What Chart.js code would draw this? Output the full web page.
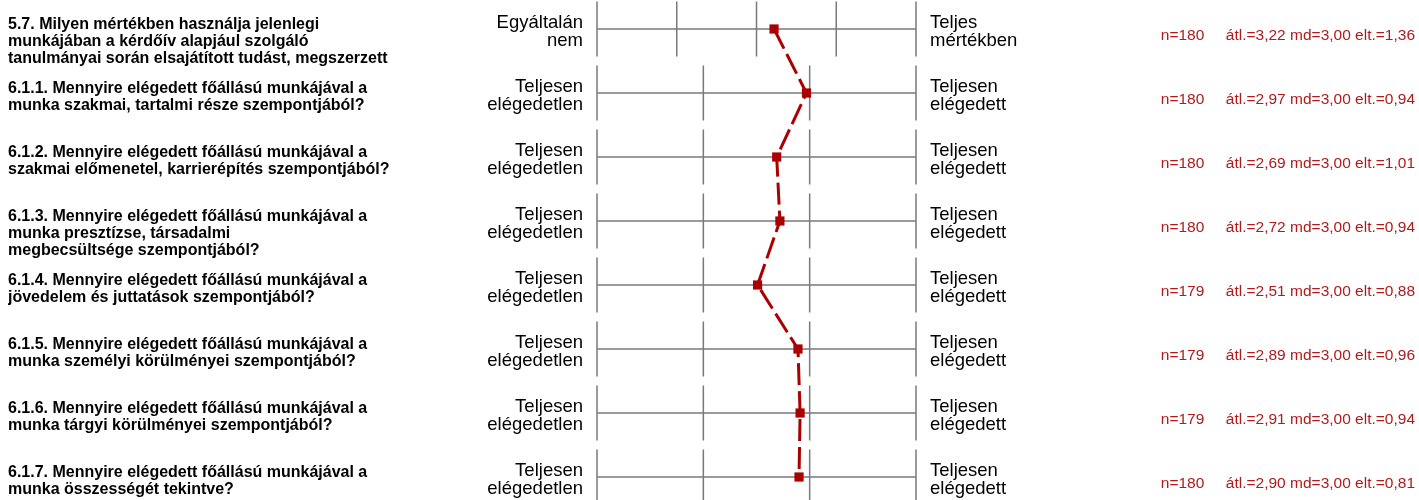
<!DOCTYPE html>
<html>
<head>
<meta charset="utf-8">
<script src="https://cdn.jsdelivr.net/npm/chart.js@4.4.1/dist/chart.umd.min.js"></script>
<style>
body{margin:0;background:#fff}
#wrap{width:1419px;height:500px;position:relative}
</style>
</head>
<body>
<div id="wrap"><canvas id="profile"></canvas></div>
<script>

/* data */
let questions = [
["5.7. Milyen mértékben használja jelenlegi","munkájában a kérdőív alapjául szolgáló","tanulmányai során elsajátított tudást, megszerzett"],
["6.1.1. Mennyire elégedett főállású munkájával a","munka szakmai, tartalmi része szempontjából?"],
["6.1.2. Mennyire elégedett főállású munkájával a","szakmai előmenetel, karrierépítés szempontjából?"],
["6.1.3. Mennyire elégedett főállású munkájával a","munka presztízse, társadalmi","megbecsültsége szempontjából?"],
["6.1.4. Mennyire elégedett főállású munkájával a","jövedelem és juttatások szempontjából?"],
["6.1.5. Mennyire elégedett főállású munkájával a","munka személyi körülményei szempontjából?"],
["6.1.6. Mennyire elégedett főállású munkájával a","munka tárgyi körülményei szempontjából?"],
["6.1.7. Mennyire elégedett főállású munkájával a","munka összességét tekintve?"]
];
let leftLabels = [["Egyáltalán","nem"],["Teljesen","elégedetlen"],["Teljesen","elégedetlen"],["Teljesen","elégedetlen"],["Teljesen","elégedetlen"],["Teljesen","elégedetlen"],["Teljesen","elégedetlen"],["Teljesen","elégedetlen"]];
let rightLabels = [["Teljes","mértékben"],["Teljesen","elégedett"],["Teljesen","elégedett"],["Teljesen","elégedett"],["Teljesen","elégedett"],["Teljesen","elégedett"],["Teljesen","elégedett"],["Teljesen","elégedett"]];
let scaleMax = [5,4,4,4,4,4,4,4];
let nValues = [180,180,180,180,179,179,179,180];
let means = [3.22,2.97,2.69,2.72,2.51,2.89,2.91,2.90];
let medians = [3.00,3.00,3.00,3.00,3.00,3.00,3.00,3.00];
let stdDevs = [1.36,0.94,1.01,0.94,0.88,0.96,0.94,0.81];

let red = "#ac0000";
let font = "'Liberation Sans', Arial, sans-serif";

function fmt(v){ return v.toFixed(2).replace(".", ","); }

let statLabels = nValues.map((n,i) =>
  "n=" + n + "     átl.=" + fmt(means[i]) + " md=" + fmt(medians[i]) + " elt.=" + fmt(stdDevs[i]));

/* question labels padded to 3 lines so they all start at the same height */
let questionLabels = questions.map(q => q.length < 3 ? q.concat([""]) : q);

/* each row: 0 .. 1 across the box, one row per y unit */
let points = means.map((m,i) => ({ x: (m - 1) / (scaleMax[i] - 1), y: i }));

let yMin = -29/64;
let yMax = yMin + 500/64;

function rowAxis(position, weight, width, labels, tickOpts){
return {
type: "linear",
position: position,
weight: weight,
reverse: true,
bounds: "data",
min: yMin,
max: yMax,
grid: { display: false, drawTicks: false },
border: { display: false },
afterBuildTicks: s => { s.ticks = questions.map((q,i) => ({ value: i })); },
afterFit: s => { s.paddingTop = 0; s.paddingBottom = 0; s.width = width; },
ticks: Object.assign({
autoSkip: false,
color: "#000",
callback: v => labels[v]
}, tickOpts)
};
}

/* box grid per row, drawn through the scales */
let rowGrid = {
id: "rowGrid",
beforeDatasetsDraw(chart){
let ctx = chart.ctx;
let xs = chart.scales.x;
let ys = chart.scales.y;
ctx.save();
ctx.strokeStyle = "#7a7a7a";
ctx.lineWidth = 1.5;
scaleMax.forEach((mx,i) => {
let yc = ys.getPixelForValue(i);
let top = ys.getPixelForValue(i - 0.43);
let bottom = ys.getPixelForValue(i + 0.43);
ctx.beginPath();
ctx.moveTo(xs.getPixelForValue(0), yc);
ctx.lineTo(xs.getPixelForValue(1), yc);
for(let k = 0; k < mx; k++){
let x = xs.getPixelForValue(k / (mx - 1));
ctx.moveTo(x, top);
ctx.lineTo(x, bottom);
}
ctx.stroke();
});
ctx.restore();
}
};

new Chart(document.getElementById("profile"), {
type: "line",
data: {
datasets: [{
data: points,
borderColor: red,
borderWidth: 3,
borderDash: [22, 6],
tension: 0,
pointStyle: "rect",
pointRadius: 6.5,
pointBorderWidth: 0,
pointBackgroundColor: red,
pointBorderColor: red
}]
},
options: {
responsive: true,
maintainAspectRatio: false,
animation: false,
events: [],
layout: { autoPadding: false, padding: { left: 8, right: 4, top: 0, bottom: 0 } },
plugins: { legend: { display: false }, tooltip: { enabled: false } },
scales: {
x: { type: "linear", min: 0, max: 1, display: false },
y: rowAxis("left", 1, 150, leftLabels, {
padding: 14, crossAlign: "near", labelOffset: 2.5,
font: { family: font, size: 18.5, lineHeight: 0.97 }
}),
yq: rowAxis("left", 2, 439, questionLabels, {
padding: 0, crossAlign: "far", labelOffset: 12.5,
font: { family: font, size: 16, weight: "bold", lineHeight: 1.07 }
}),
yr: rowAxis("right", 1, 200, rightLabels, {
padding: 14, crossAlign: "near", labelOffset: 2.5,
font: { family: font, size: 18.5, lineHeight: 0.97 }
}),
ys: rowAxis("right", 2, 299, statLabels, {
padding: 0, crossAlign: "far", labelOffset: 7, color: "#b01a1a",
font: { family: font, size: 15.5 }
})
}
},
plugins: [rowGrid]
});

</script>
</body>
</html>
